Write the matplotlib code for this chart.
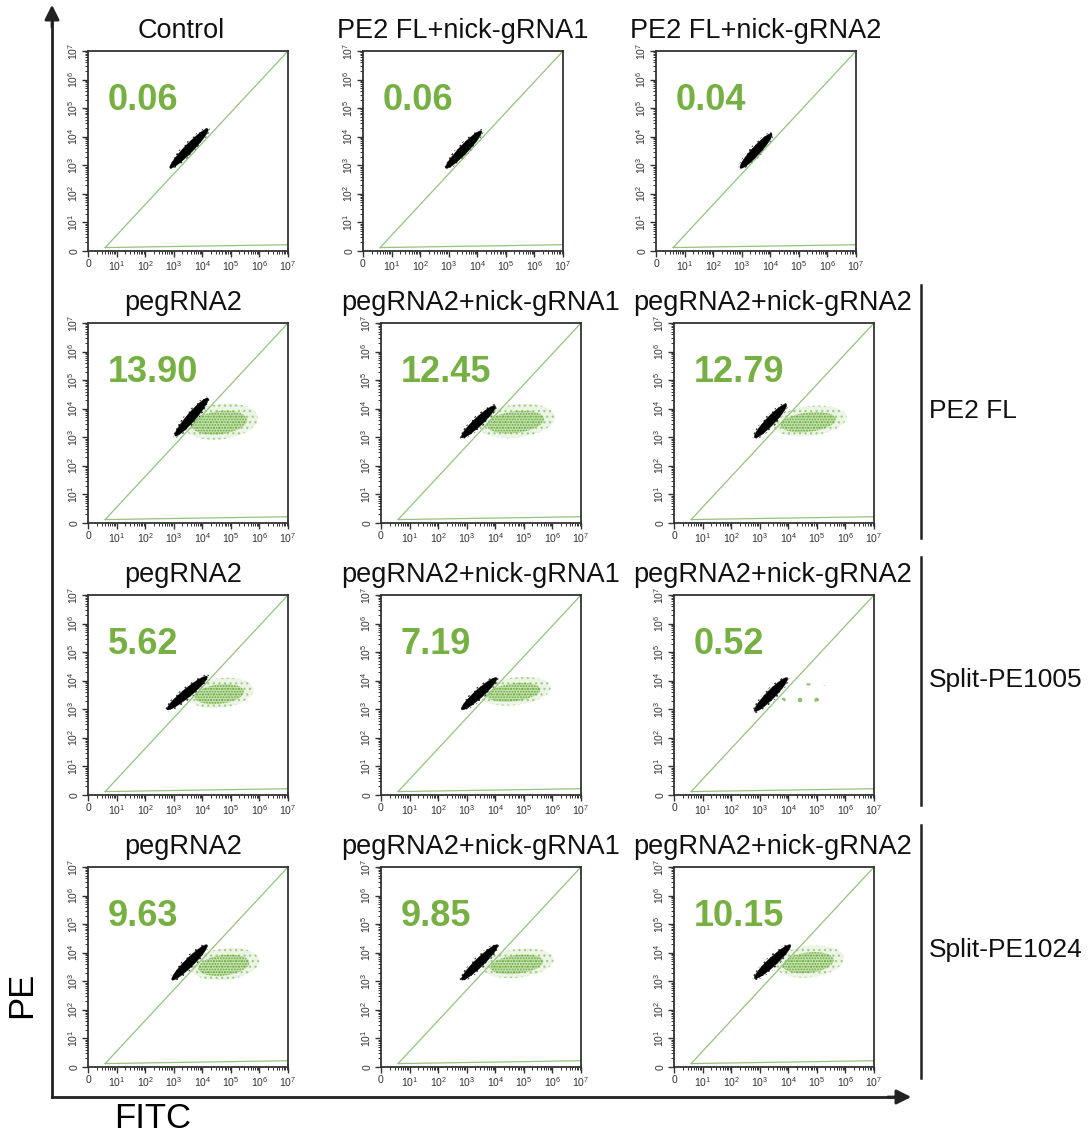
import numpy as np
import matplotlib.pyplot as plt
from matplotlib.patches import Ellipse

plt.rcParams['font.family'] = ['Liberation Sans', 'DejaVu Sans']
plt.rcParams['mathtext.default'] = 'regular'
plt.rcParams['hatch.linewidth'] = 0.9

# panel titles and gated percentages, row by row
titles = [
    ['Control', 'PE2 FL+nick-gRNA1', 'PE2 FL+nick-gRNA2'],
    ['pegRNA2', 'pegRNA2+nick-gRNA1', 'pegRNA2+nick-gRNA2'],
    ['pegRNA2', 'pegRNA2+nick-gRNA1', 'pegRNA2+nick-gRNA2'],
    ['pegRNA2', 'pegRNA2+nick-gRNA1', 'pegRNA2+nick-gRNA2'],
]
percent = [
    ['0.06', '0.06', '0.04'],
    ['13.90', '12.45', '12.79'],
    ['5.62', '7.19', '0.52'],
    ['9.63', '9.85', '10.15'],
]
groups = ['PE2 FL', 'Split-PE1005', 'Split-PE1024']

# decade ticks of the biexponential display (0, 10^1 ... 10^7)
tick_labels = ['0'] + ['$10^{%d}$' % k for k in range(1, 8)]

# black (ungated) population: diagonal band, start/end in decades
black_x0 = [[2.87, 2.90, 2.95], [3.05, 2.82, 2.82], [2.77, 2.82, 2.82], [2.94, 2.82, 2.82]]
black_y0 = [[2.90, 2.90, 2.90], [3.05, 2.99, 2.99], [2.99, 2.99, 2.93], [3.05, 3.05, 3.10]]
black_x1 = [[4.20, 4.15, 4.05], [4.20, 4.00, 3.93], [4.17, 4.05, 3.97], [4.17, 4.08, 4.08]]
black_y1 = [[4.27, 4.20, 4.10], [4.37, 4.10, 4.15], [4.15, 4.10, 4.10], [4.27, 4.27, 4.27]]

# green (gated) population: centre and half extents in decades
green_cx = [[0, 0, 0], [4.65, 4.75, 4.75], [4.65, 4.70, 4.60], [4.80, 4.80, 4.75]]
green_cy = [[0, 0, 0], [3.55, 3.57, 3.57], [3.57, 3.63, 3.55], [3.60, 3.63, 3.69]]
green_hw = [[0, 0, 0], [1.30, 1.35, 1.30], [1.15, 1.25, 0.90], [1.20, 1.25, 1.20]]
green_hh = [[0, 0, 0], [0.62, 0.58, 0.52], [0.52, 0.48, 0.35], [0.55, 0.50, 0.55]]

W, H = 1091, 1138
fig = plt.figure(figsize=(W / 100, H / 100), dpi=100)


def fx(px):
    return px / W


def fy(py):
    return 1 - py / H


panel_left = [[88, 363, 656], [88, 381, 674], [88, 381, 674], [88, 381, 674]]
panel_top = [51, 323, 595, 867]
title_x = [[181, 463, 756], [183, 481, 773], [183, 481, 773], [183, 481, 773]]
size = 200
gate_green = '#93c47d'
num_green = '#76b043'
dot_green = '#6aab3a'

minor = [k + np.log10(m) for k in range(7) for m in range(2, 10)]

for r in range(4):
    for c in range(3):
        left, top = panel_left[r][c], panel_top[r]
        ax = fig.add_axes([fx(left), fy(top + size), size / W, size / H])
        ax.set_xlim(0, 7)
        ax.set_ylim(0, 7)
        ax.set_xticks(range(8))
        ax.set_yticks(range(8))
        ax.set_xticklabels(tick_labels, fontsize=7.5, color='#333333')
        ax.set_yticklabels(tick_labels, fontsize=7.5, color='#333333',
                           rotation=90, va='center')
        ax.set_xticks(minor, minor=True)
        ax.set_yticks(minor, minor=True)
        ax.tick_params(which='major', length=4, width=1, pad=2, colors='#333333')
        ax.tick_params(which='minor', length=2.5, width=0.7, colors='#333333')
        for s in ax.spines.values():
            s.set_linewidth(1.3)
            s.set_color('#333333')

        # gate lines
        ax.plot([0.6, 7], [0.12, 7], color=gate_green, lw=0.9)
        ax.plot([0.6, 7], [0.12, 0.22], color=gate_green, lw=0.9)

        # gated green population: sparse halo plus denser core
        if green_cx[r][c] > 0:
            gx, gy = green_cx[r][c], green_cy[r][c]
            gw, gh = green_hw[r][c], green_hh[r][c]
            if float(percent[r][c]) < 1:
                ax.add_patch(Ellipse((gx, gy), 2 * gw, 2 * gh, angle=6,
                                     facecolor='none', edgecolor='#8fbf6f', lw=0,
                                     hatch='.'))
            else:
                ax.add_patch(Ellipse((gx, gy), 2 * gw, 2 * gh, angle=7,
                                     facecolor=(0.6, 0.8, 0.45, 0.18),
                                     edgecolor='#a3cd87', lw=0, hatch='...'))
                ax.add_patch(Ellipse((gx - 0.05, gy - 0.04), 1.5 * gw, 1.3 * gh, angle=7,
                                     facecolor=(0.5, 0.74, 0.33, 0.35),
                                     edgecolor=dot_green, lw=0, hatch='......'))

        # black population along the diagonal
        x0, y0 = black_x0[r][c], black_y0[r][c]
        x1, y1 = black_x1[r][c], black_y1[r][c]
        length = np.hypot(x1 - x0, y1 - y0)
        ang = np.degrees(np.arctan2(y1 - y0, x1 - x0))
        centre = ((x0 + x1) / 2, (y0 + y1) / 2)
        ax.add_patch(Ellipse(centre, length * 1.08, 0.44, angle=ang,
                             facecolor='none', edgecolor='#333333', lw=0, hatch='....'))
        ax.add_patch(Ellipse(centre, length, 0.30, angle=ang,
                             facecolor='black', edgecolor='black', lw=0.3))

        ax.text(0.1, 0.75, percent[r][c], transform=ax.transAxes, fontsize=26,
                fontweight='bold', color=num_green, va='center', ha='left')

        fig.text(fx(title_x[r][c]), fy(panel_top[r] - 20), titles[r][c],
                 fontsize=19.5, ha='center', va='center', color='#111111')

# overall axis arrows
fig.add_artist(plt.Line2D([fx(52), fx(52)], [fy(1097), fy(12)], color='#222222', lw=2))
fig.add_artist(plt.Line2D([fx(52), fx(900)], [fy(1097), fy(1097)], color='#222222', lw=2))
arrow = fig.add_axes([0, 0, 1, 1], facecolor='none')
arrow.set_axis_off()
arrow.set_xlim(0, 1)
arrow.set_ylim(0, 1)
arrow.annotate('', xy=(fx(52), fy(2)), xytext=(fx(52), fy(30)),
               arrowprops=dict(arrowstyle='-|>', color='#222222', lw=2, mutation_scale=22))
arrow.annotate('', xy=(fx(914), fy(1097)), xytext=(fx(885), fy(1097)),
               arrowprops=dict(arrowstyle='-|>', color='#222222', lw=2, mutation_scale=22))
fig.text(fx(22), fy(995), 'PE', rotation=90, fontsize=25, ha='center', va='center')
fig.text(fx(153), fy(1119), 'FITC', fontsize=25, ha='center', va='center')

# group brackets on the right
bracket_top = [285, 557, 825]
bracket_bot = [538, 805, 1078]
for g in range(3):
    fig.add_artist(plt.Line2D([fx(921), fx(921)], [fy(bracket_top[g]), fy(bracket_bot[g])],
                              color='#222222', lw=1.8))
    fig.text(fx(929), fy((bracket_top[g] + bracket_bot[g]) / 2 - 1), groups[g],
             fontsize=19, ha='left', va='center', color='#111111')

fig.savefig('out.png', dpi=100)
